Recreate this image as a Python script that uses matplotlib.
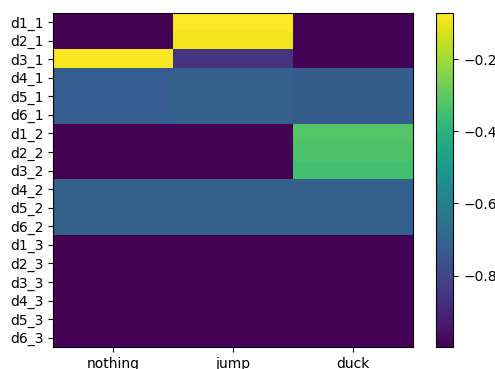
import matplotlib
matplotlib.use("Agg")
import matplotlib.pyplot as plt
import numpy as np

actions = ["nothing", "jump", "duck"]
states = ["d1_1", "d2_1", "d3_1", "d4_1", "d5_1", "d6_1",
          "d1_2", "d2_2", "d3_2", "d4_2", "d5_2", "d6_2",
          "d1_3", "d2_3", "d3_3", "d4_3", "d5_3", "d6_3"]

# Q-values per state, one list per action
q_nothing = [-0.998, -0.998, -0.075, -0.72, -0.72, -0.72,
             -0.998, -0.998, -0.998, -0.712, -0.712, -0.712,
             -0.998, -0.998, -0.998, -0.998, -0.998, -0.998]
q_jump = [-0.071, -0.09, -0.86, -0.714, -0.714, -0.714,
          -0.998, -0.998, -0.998, -0.712, -0.712, -0.712,
          -0.998, -0.998, -0.998, -0.998, -0.998, -0.998]
q_duck = [-0.998, -0.998, -0.998, -0.726, -0.726, -0.726,
          -0.32, -0.33, -0.35, -0.712, -0.712, -0.712,
          -0.998, -0.998, -0.998, -0.998, -0.998, -0.998]

q = np.column_stack([q_nothing, q_jump, q_duck])

fig = plt.figure(figsize=(4.95, 3.69), dpi=100)
ax = fig.add_axes([0.1077, 0.0596, 0.7267, 0.906])
cax = fig.add_axes([0.8808, 0.0596, 0.035, 0.906])

im = ax.imshow(q, cmap="viridis", aspect="auto", interpolation="nearest")
ax.set_xticks(range(len(actions)))
ax.set_xticklabels(actions)
ax.set_yticks(range(len(states)))
ax.set_yticklabels(states)
fig.colorbar(im, cax=cax)

fig.savefig("out.png", dpi=100)
